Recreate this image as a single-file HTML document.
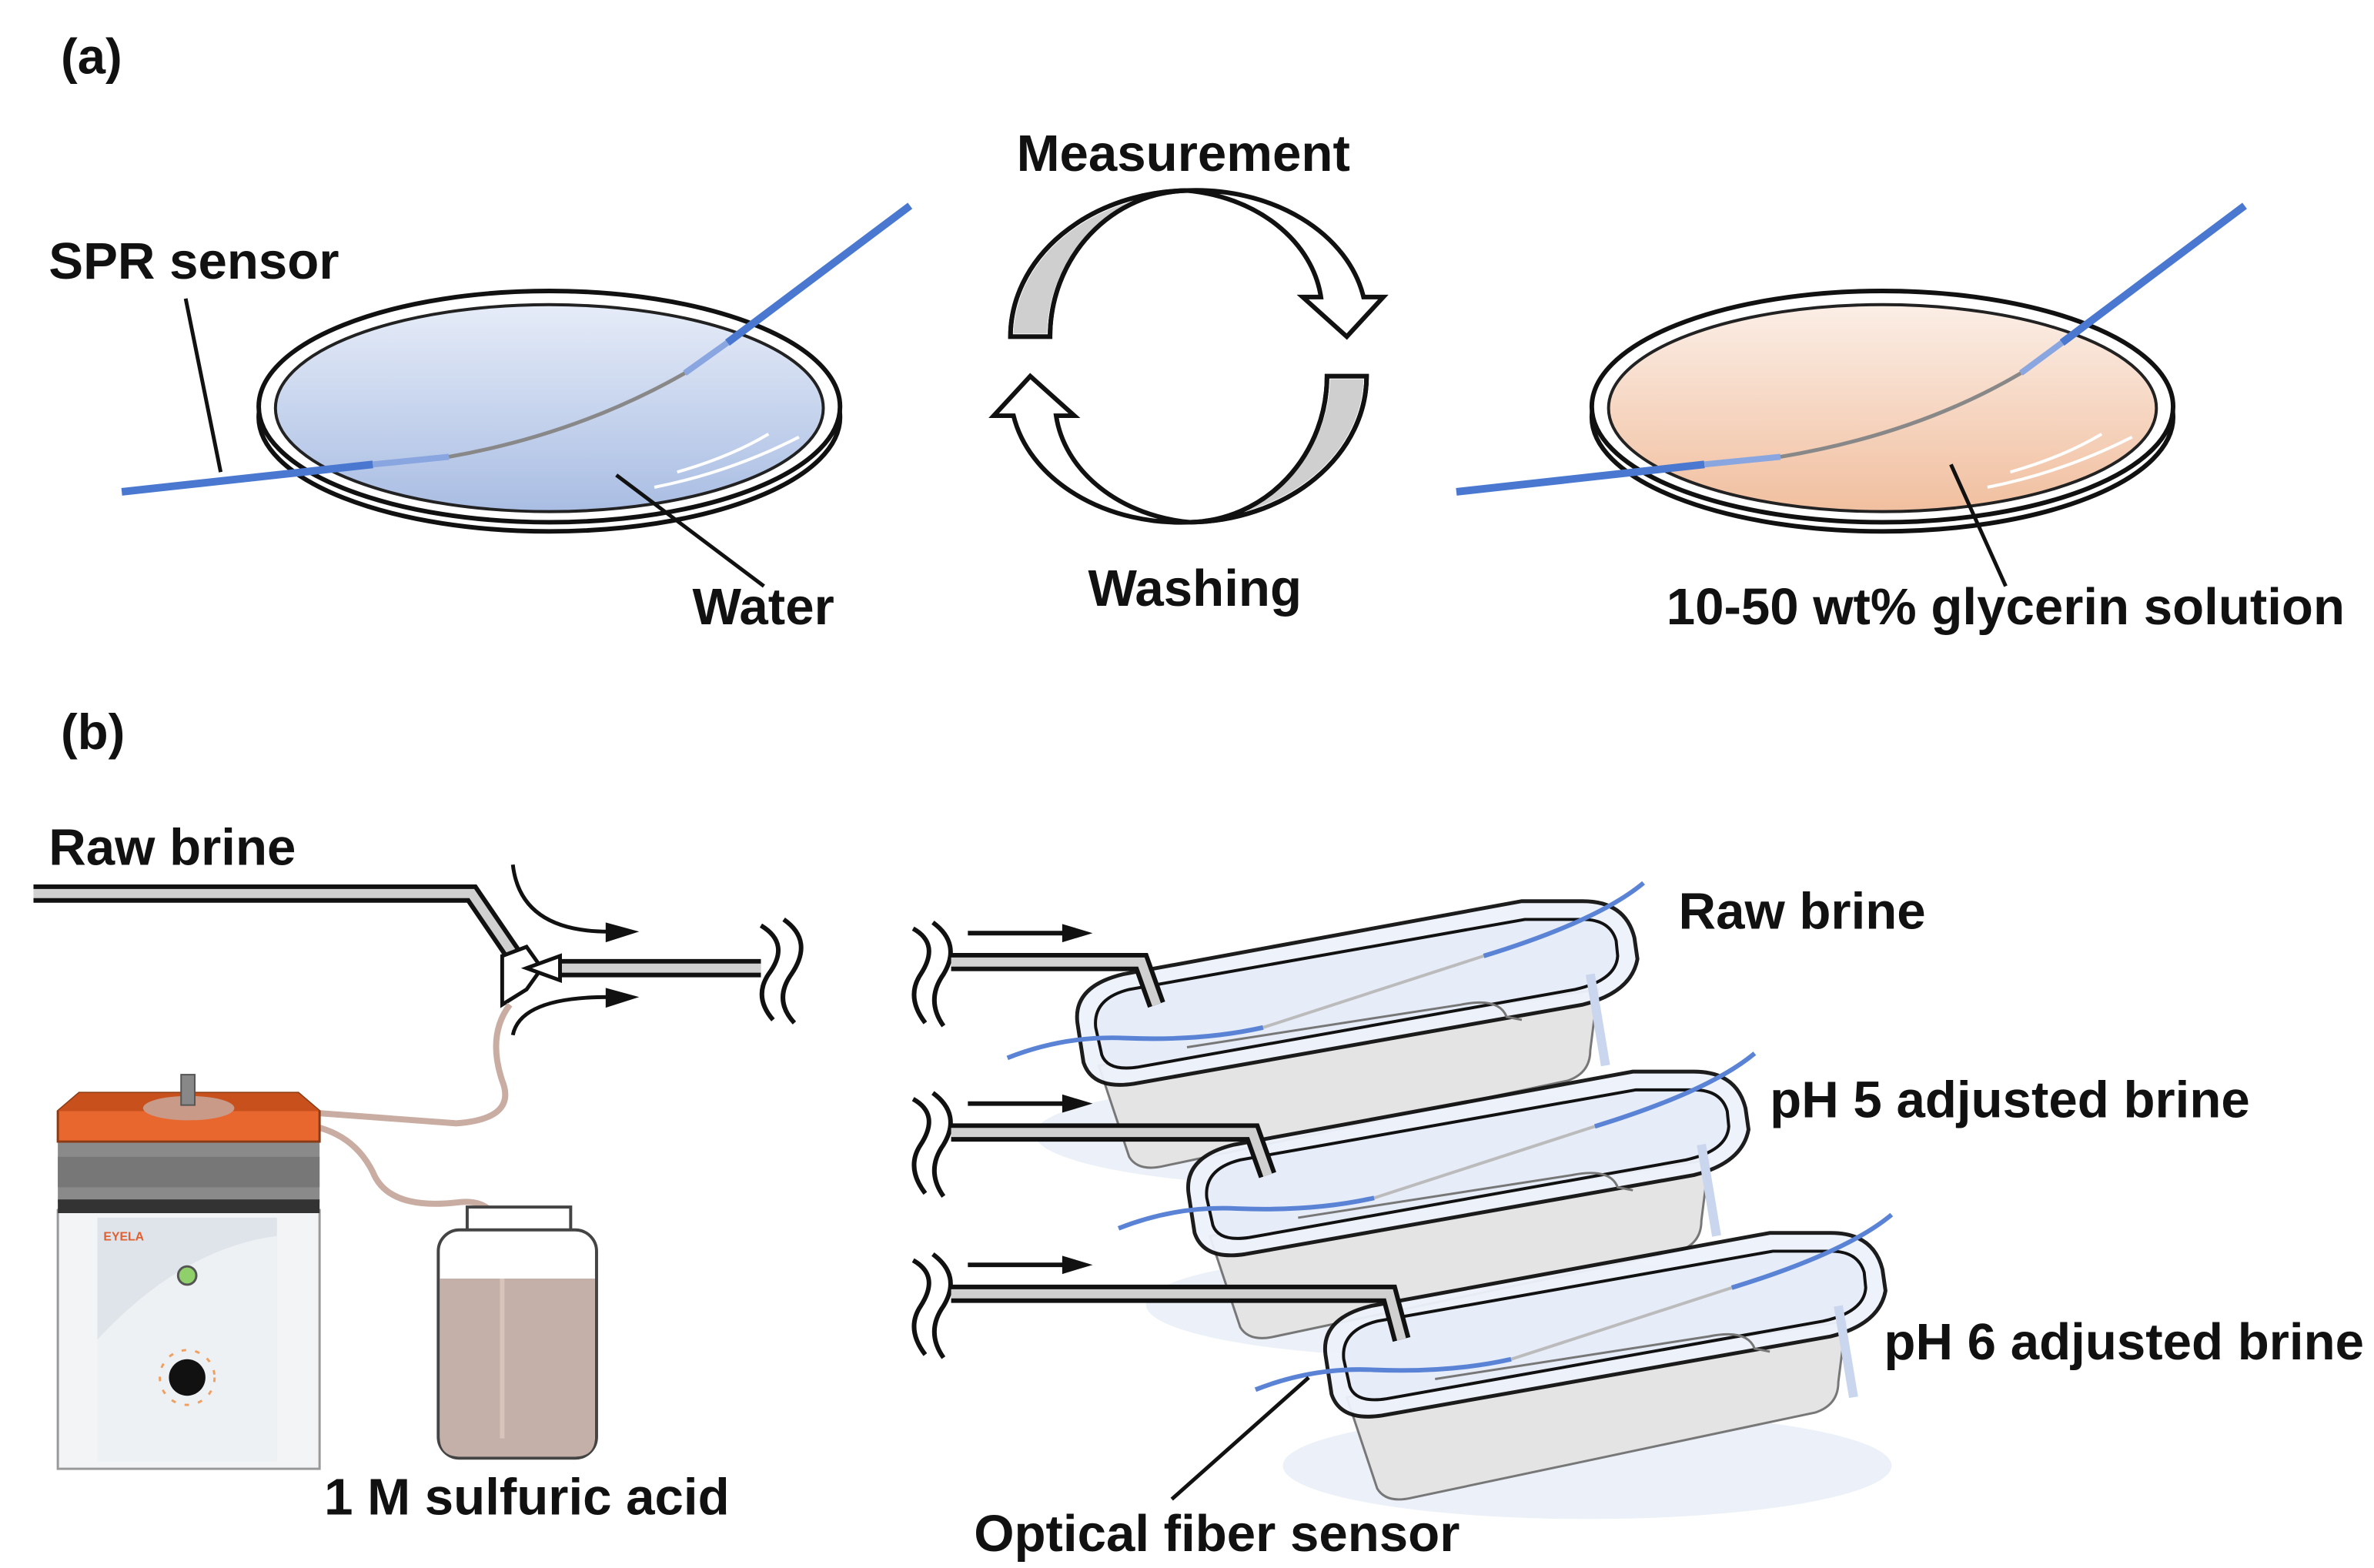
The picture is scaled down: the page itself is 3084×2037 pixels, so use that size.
<!DOCTYPE html>
<html><head><meta charset="utf-8"><style>
html,body{margin:0;padding:0;background:#fff;}
svg{display:block;}
text{font-family:"Liberation Sans",Arial,sans-serif;font-weight:bold;fill:#111;}
</style></head><body>
<svg width="3084" height="2037" viewBox="0 0 1560 1030" xmlns="http://www.w3.org/2000/svg">
<defs>
<linearGradient id="wat" x1="0" y1="0" x2="0" y2="1"><stop offset="0" stop-color="#e6ecf8"/><stop offset="1" stop-color="#a9bde3"/></linearGradient>
<linearGradient id="gly" x1="0" y1="0" x2="0" y2="1"><stop offset="0" stop-color="#fbeee6"/><stop offset="1" stop-color="#f1bf9f"/></linearGradient>
</defs>

<text x="40" y="48" font-size="33">(a)</text>
<text x="40" y="492" font-size="33">(b)</text>

<!-- left dish -->
<ellipse cx="361" cy="274" rx="191" ry="75" fill="#fff" stroke="#111" stroke-width="3"/>
<ellipse cx="361" cy="267" rx="191" ry="76" fill="#fff" stroke="#111" stroke-width="3"/>
<ellipse cx="361" cy="268" rx="180" ry="68" fill="url(#wat)" stroke="#222" stroke-width="2"/>
<path d="M430,320 Q480,310 525,287 M445,310 Q480,300 505,285" stroke="#fff" stroke-width="2" fill="none"/>
<path d="M80,323 L245,305" stroke="#4a78d0" stroke-width="5"/>
<path d="M245,305 L295,300" stroke="#8aa6e0" stroke-width="4"/>
<path d="M295,300 Q380,285 450,245" stroke="#888" stroke-width="2.5" fill="none"/>
<path d="M450,245 L478,225" stroke="#8aa6e0" stroke-width="4"/>
<path d="M478,225 L598,135" stroke="#4a78d0" stroke-width="5"/>
<text x="32" y="183" font-size="34">SPR sensor</text>
<path d="M122,196 L145,310" stroke="#111" stroke-width="2.5"/>
<text x="455" y="410" font-size="34">Water</text>
<path d="M502,385 L405,312" stroke="#111" stroke-width="2.5"/>

<!-- right dish -->
<ellipse cx="1237" cy="274" rx="191" ry="75" fill="#fff" stroke="#111" stroke-width="3"/>
<ellipse cx="1237" cy="267" rx="191" ry="76" fill="#fff" stroke="#111" stroke-width="3"/>
<ellipse cx="1237" cy="268" rx="180" ry="68" fill="url(#gly)" stroke="#222" stroke-width="2"/>
<path d="M1306,320 Q1356,310 1401,287 M1321,310 Q1356,300 1381,285" stroke="#fff" stroke-width="2" fill="none"/>
<path d="M957,323 L1120,305" stroke="#4a78d0" stroke-width="5"/>
<path d="M1120,305 L1170,300" stroke="#8aa6e0" stroke-width="4"/>
<path d="M1170,300 Q1260,285 1328,245" stroke="#888" stroke-width="2.5" fill="none"/>
<path d="M1328,245 L1355,225" stroke="#8aa6e0" stroke-width="4"/>
<path d="M1355,225 L1475,135" stroke="#4a78d0" stroke-width="5"/>
<text x="1095" y="410" font-size="34">10-50 wt% glycerin solution</text>
<path d="M1318,385 L1282,305" stroke="#111" stroke-width="2.5"/>

<!-- cycle -->
<text x="668" y="112" font-size="34">Measurement</text>
<text x="715" y="398" font-size="34">Washing</text>
<g id="arc" stroke="#111" stroke-width="3" stroke-linejoin="miter">
<path d="M664,221 A118,96 0 0 1 780,125 A112,86 0 0 1 896,195 L909,195 L885,221 L856,195 L868,195 A100,80 0 0 0 780,125 A92,96 0 0 0 690,221 Z" fill="#fff"/>
<path d="M666,219 A116,94 0 0 1 780,127 A92,94 0 0 0 688,219 Z" fill="#cfcfcf" stroke="none"/>
<path d="M664,221 A118,96 0 0 1 780,125 A92,96 0 0 0 690,221 Z" fill="none"/>
</g>
<use href="#arc" transform="rotate(180 781 234)"/>

<!-- (b) inflow -->
<text x="32" y="568" font-size="34">Raw brine</text>
<path d="M22,587 L310,587 L338,628" stroke="#111" stroke-width="12" fill="none"/>
<path d="M22,587 L310,587 L338,628" stroke="#d0d0d0" stroke-width="6" fill="none"/>
<path d="M365,636 L500,636" stroke="#111" stroke-width="12"/>
<path d="M365,636 L500,636" stroke="#d0d0d0" stroke-width="6"/>
<path d="M330,628 L346,622 L356,636 L346,650 L330,660 Z" fill="#fff" stroke="#111" stroke-width="2.5"/>
<path d="M346,636 L368,628 L368,644 Z" fill="#fff" stroke="#111" stroke-width="2.5"/>
<path d="M500,608 Q520,620 505,640 Q495,655 508,670 M515,604 Q535,618 520,640 Q508,657 522,672" stroke="#111" stroke-width="3" fill="none"/>
<path d="M337,568 Q342,612 400,612" stroke="#111" stroke-width="2.5" fill="none"/>
<path d="M398,606 L420,612 L398,619 Z" fill="#111"/>
<path d="M337,680 Q342,655 400,655" stroke="#111" stroke-width="2.5" fill="none"/>
<path d="M398,649 L420,655 L398,662 Z" fill="#111"/>

<!-- tubing -->
<path d="M335,660 Q320,680 330,710 Q340,735 300,738 L192,730" stroke="#c9aca2" stroke-width="4" fill="none"/>
<path d="M192,738 Q230,740 245,770 Q255,795 300,790 Q330,786 330,820 L330,945" stroke="#c9aca2" stroke-width="4" fill="none"/>

<!-- pump -->
<rect x="38" y="795" width="172" height="170" fill="#f2f4f6" stroke="#999" stroke-width="1.5"/>
<rect x="64" y="800" width="118" height="160" fill="#dfe4ea"/>
<path d="M64,880 Q120,820 182,812 L182,960 L64,960 Z" fill="#eef1f4"/>
<rect x="38" y="748" width="172" height="42" fill="#8a8a8a"/>
<rect x="38" y="760" width="172" height="20" fill="#777"/>
<rect x="38" y="788" width="172" height="9" fill="#333"/>
<path d="M52,718 L196,718 L210,730 L210,750 L38,750 L38,730 Z" fill="#e8672e" stroke="#8a3b15" stroke-width="1.5"/>
<path d="M52,718 L196,718 L210,730 L38,730 Z" fill="#c8501c"/>
<ellipse cx="124" cy="728" rx="30" ry="8" fill="#c99a88"/>
<rect x="119" y="706" width="9" height="20" fill="#888" stroke="#555"/>
<text x="68" y="815" font-size="8" style="fill:#e06030">EYELA</text>
<circle cx="123" cy="838" r="6" fill="#8fd06a" stroke="#555" stroke-width="1.5"/>
<circle cx="123" cy="905" r="18" fill="none" stroke="#f0a060" stroke-width="1.5" stroke-dasharray="3 6"/>
<circle cx="123" cy="905" r="12" fill="#111"/>

<!-- bottle -->
<rect x="307" y="793" width="68" height="18" fill="#fff" stroke="#444" stroke-width="2"/>
<rect x="288" y="808" width="104" height="150" rx="14" fill="#fff" stroke="#444" stroke-width="2"/>
<path d="M289,840 L391,840 L391,944 Q391,957 378,957 L302,957 Q289,957 289,944 Z" fill="#c4b0a8"/>
<path d="M330,840 L330,945" stroke="#d9c4bc" stroke-width="3"/>
<text x="213" y="995" font-size="34">1 M sulfuric acid</text>

<!-- tubs -->
<g id="tub">
<ellipse cx="880" cy="745" rx="200" ry="35" fill="#e6ecf8" opacity="0.8"/>
<path d="M722,700 L742,760 Q748,770 765,766 L1030,710 Q1045,705 1045,690 L1050,650 Z" fill="#e4e4e4" stroke="#777" stroke-width="1.5"/>
<path d="M738,640 Q705,648 708,672 L712,698 Q718,716 745,712 L1040,660 Q1072,652 1076,630 L1074,616 Q1068,592 1040,592 L1000,592 Z" fill="#eef2fb" stroke="#111" stroke-width="2.5" opacity="0.95"/>
<path d="M742,650 Q718,656 720,675 L724,693 Q728,704 748,701 L1035,650 Q1062,644 1063,628 L1062,618 Q1058,604 1040,604 L1002,604 Z" fill="#e6ecf8" stroke="#111" stroke-width="2"/>
<path d="M780,688 L960,660 Q985,655 990,668 L1000,670" stroke="#777" stroke-width="1.5" fill="none"/>
<path d="M1045,640 L1055,700" stroke="#c9d6ee" stroke-width="6"/>
<path d="M662,695 Q700,680 740,682 Q790,684 830,675" stroke="#5a83d6" stroke-width="3" fill="none"/>
<path d="M830,675 L975,628" stroke="#bbb" stroke-width="2"/>
<path d="M975,628 Q1050,605 1080,580" stroke="#5a83d6" stroke-width="3" fill="none"/>
</g>
<use href="#tub" transform="translate(73,112)"/>
<use href="#tub" transform="translate(163,218)"/>

<!-- inlet pipes -->
<g id="brk">
<path d="M600,610 Q618,620 605,640 Q595,655 608,672 M613,606 Q632,620 620,640 Q608,657 620,674" stroke="#111" stroke-width="3" fill="none"/>
<path d="M636,613 L700,613" stroke="#111" stroke-width="3"/>
<path d="M698,607 L718,613 L698,619 Z" fill="#111"/>
</g>
<use href="#brk" transform="translate(0,112)"/>
<use href="#brk" transform="translate(0,218)"/>
<path d="M625,632 L750,632 L760,660" stroke="#111" stroke-width="12" fill="none"/>
<path d="M625,632 L750,632 L760,660" stroke="#d0d0d0" stroke-width="6" fill="none"/>
<path d="M625,744 L823,744 L833,772" stroke="#111" stroke-width="12" fill="none"/>
<path d="M625,744 L823,744 L833,772" stroke="#d0d0d0" stroke-width="6" fill="none"/>
<path d="M625,850 L913,850 L921,880" stroke="#111" stroke-width="12" fill="none"/>
<path d="M625,850 L913,850 L921,880" stroke="#d0d0d0" stroke-width="6" fill="none"/>

<text x="1103" y="610" font-size="34">Raw brine</text>
<text x="1163" y="734" font-size="34">pH 5 adjusted brine</text>
<text x="1238" y="893" font-size="34">pH 6 adjusted brine</text>
<text x="640" y="1019" font-size="34">Optical fiber sensor</text>
<path d="M770,985 L860,905" stroke="#111" stroke-width="2.5"/>
</svg>
</body></html>
